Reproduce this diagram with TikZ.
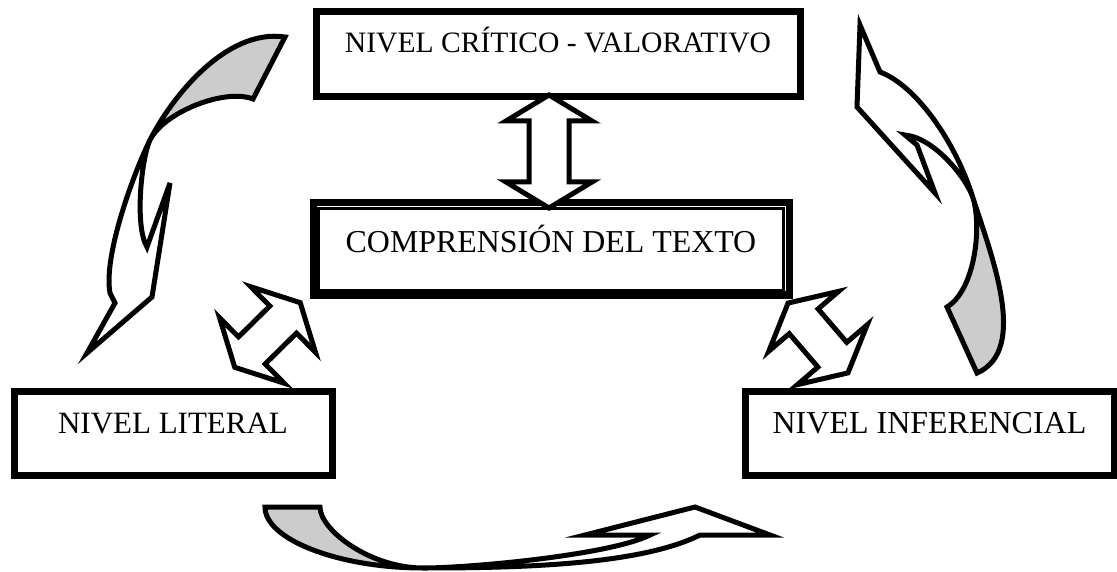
\documentclass[tikz,border=0pt]{standalone}
\usepackage{fontspec}
\setmainfont{Liberation Serif}
\usetikzlibrary{shapes,arrows}
\definecolor{sombra}{HTML}{CCCCCC}
\tikzstyle{nivel} = [rectangle, draw=black, line width=7pt, inner sep=0pt, text centered, font=\fontsize{31}{36}\selectfont, text height=21pt, text depth=21pt]
\tikzstyle{flecha} = [draw=black, fill=white, line width=5pt, line join=miter]
\tikzstyle{curva} = [draw=black, line width=5pt, line join=miter]

\begin{document}
\begin{tikzpicture}[x=1pt,y=-1pt]
	\useasboundingbox (0,0) rectangle (1117,572);

	% niveles
	\node[nivel, minimum width=484pt, minimum height=85pt, font=\fontsize{29.6}{36}\selectfont, text height=20pt, text depth=23pt](critico) at (558,54.5) {NIVEL CRÍTICO - VALORATIVO};
	\node[nivel, minimum width=476pt, minimum height=92pt, font=\fontsize{31.9}{36}\selectfont, text height=24pt, text depth=16pt](comprension) at (551,249) {COMPRENSIÓN DEL TEXTO};
	\node[nivel, minimum width=318pt, minimum height=84pt](literal) at (173,433) {NIVEL LITERAL};
	\node[nivel, minimum width=369pt, minimum height=84pt, font=\fontsize{32}{36}\selectfont](inferencial) at (929.5,433) {NIVEL INFERENCIAL};
	\draw[line width=2.5pt] ([shift={(9,9)}]comprension.north west) rectangle ([shift={(-9,-8)}]comprension.south east);

	% flechas dobles
	\draw[flecha, shift={(549,151.5)}, rotate=90] (56.5,0) -- (30.5,43) -- (30.5,20) -- (-30.5,20) -- (-30.5,43) -- (-56.5,0) -- (-30.5,-43) -- (-30.5,-20) -- (30.5,-20) -- (30.5,-43) -- cycle;
	\draw[flecha, shift={(267.5,335)}, rotate=44.6] (46,0) -- (22,46) -- (22,19) -- (-22,19) -- (-22,46) -- (-46,0) -- (-22,-46) -- (-22,-19) -- (22,-19) -- (22,-46) -- cycle;
	\draw[flecha, shift={(818,338)}, rotate=-49.4] (46,0) -- (22,46) -- (22,19) -- (-22,19) -- (-22,46) -- (-46,0) -- (-22,-46) -- (-22,-19) -- (22,-19) -- (22,-46) -- cycle;

	% flecha curva izquierda
	\fill[sombra] (285,37) .. controls (225,28) and (170,100) .. (150,140) .. controls (164,112) and (225,88) .. (253,99) -- cycle;
	\draw[curva] (285,37) .. controls (225,28) and (170,100) .. (150,140) .. controls (135,170) and (103,255) .. (110,293) -- (115,303) -- (87,353) -- (152,297) -- (170,183) -- (147,247) .. controls (134,225) and (142,156) .. (150,140) .. controls (164,112) and (225,88) .. (253,99) -- cycle;

	% flecha curva derecha
	\fill[sombra] (973,198) .. controls (990,252) and (1030,350) .. (977,373) -- (947,307) .. controls (975,290) and (982,227) .. (973,198) -- cycle;
	\draw[curva] (860,25) -- (880,72) .. controls (915,85) and (955,140) .. (973,198) .. controls (990,252) and (1030,350) .. (977,373) -- (947,307) .. controls (975,290) and (982,227) .. (973,198) .. controls (967,179) and (935,138) .. (905,135) -- (917,145) -- (935,193) -- (857,107) -- cycle;

	% flecha curva inferior
	\fill[sombra] (265,507) .. controls (265,540) and (340,568) .. (423,568) .. controls (370,568) and (320,530) .. (320,507) -- cycle;
	\draw[curva] (265,507) .. controls (265,540) and (340,568) .. (423,568) .. controls (520,568) and (640,565) .. (700,535) -- (770,535) -- (695,507) -- (585,535) -- (650,535) .. controls (610,555) and (470,568) .. (423,568) .. controls (370,568) and (320,530) .. (320,507) -- cycle;
\end{tikzpicture}
\end{document}
